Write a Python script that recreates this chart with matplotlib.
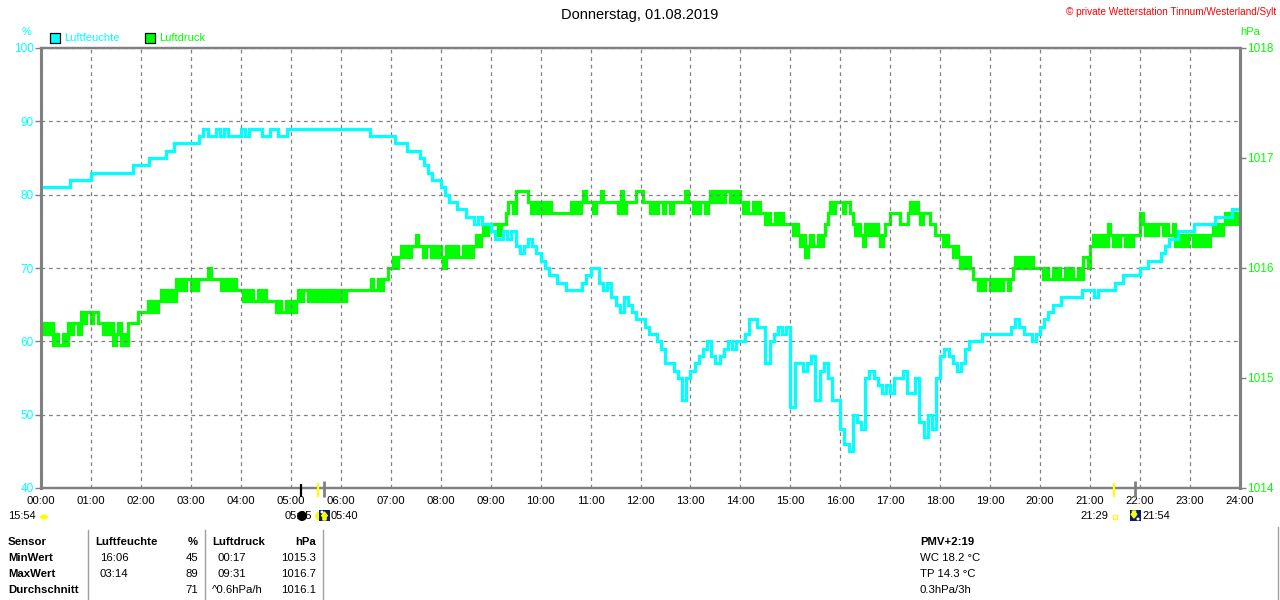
import matplotlib
matplotlib.use("Agg")
import matplotlib.pyplot as plt
import matplotlib.transforms as mtransforms
from matplotlib.patches import Rectangle, Ellipse, FancyArrow
from matplotlib.lines import Line2D
import numpy as np

W, H = 1280, 600

# ---------------- data ----------------
title = "Donnerstag, 01.08.2019"
copyright_text = "\u00a9 private Wetterstation Tinnum/Westerland/Sylt"
hour_labels = ["%02d:00" % h for h in range(25)]
hum_ticks = [40, 50, 60, 70, 80, 90, 100]
pres_ticks = [1014, 1015, 1016, 1017, 1018]

# relative humidity (%) every 5 minutes, 00:00 .. 24:00
humidity = [
    81, 81, 81, 81, 81, 81, 81, 82, 82, 82, 82, 82,
    83, 83, 83, 83, 83, 83, 83, 83, 83, 83, 84, 84,
    84, 84, 85, 85, 85, 85, 86, 86, 87, 87, 87, 87,
    87, 87, 88, 89, 88, 88, 89, 88, 89, 88, 88, 88,
    89, 88, 89, 89, 89, 88, 88, 89, 89, 88, 88, 89,
    89, 89, 89, 89, 89, 89, 89, 89, 89, 89, 89, 89,
    89, 89, 89, 89, 89, 89, 89, 88, 88, 88, 88, 88,
    88, 87, 87, 87, 86, 86, 86, 85, 84, 83, 82, 82,
    81, 80, 79, 79, 78, 78, 77, 77, 76, 77, 76, 76,
    75, 74, 74, 75, 74, 75, 73, 72, 73, 74, 73, 72,
    71, 70, 69, 69, 68, 68, 67, 67, 67, 67, 68, 69,
    70, 70, 68, 67, 68, 66, 65, 64, 66, 65, 64, 63,
    63, 62, 61, 61, 60, 59, 57, 57, 56, 55, 52, 55,
    56, 57, 58, 59, 60, 58, 57, 58, 59, 60, 59, 60,
    60, 61, 63, 63, 62, 62, 57, 60, 61, 62, 61, 62,
    51, 57, 57, 56, 57, 58, 52, 56, 57, 55, 52, 52,
    48, 46, 45, 50, 49, 48, 55, 56, 55, 54, 53, 54,
    53, 55, 55, 56, 53, 53, 55, 49, 47, 50, 48, 55,
    58, 59, 58, 57, 56, 57, 59, 60, 60, 60, 61, 61,
    61, 61, 61, 61, 61, 62, 63, 62, 61, 61, 60, 61,
    62, 63, 64, 65, 65, 66, 66, 66, 66, 66, 67, 67,
    67, 66, 67, 67, 67, 67, 68, 68, 69, 69, 69, 69,
    70, 70, 71, 71, 71, 72, 73, 74, 74, 75, 75, 75,
    75, 76, 76, 76, 76, 76, 77, 77, 77, 77, 78, 78,
    78,
]

# air pressure (hPa) every 3 minutes, 00:00 .. 24:00
pressure = [
    1015.5, 1015.4, 1015.5, 1015.4, 1015.5, 1015.3, 1015.4, 1015.3, 1015.3, 1015.4, 1015.3, 1015.5, 1015.4, 1015.5, 1015.5, 1015.4, 1015.6, 1015.5, 1015.6, 1015.6,
    1015.5, 1015.6, 1015.6, 1015.5, 1015.5, 1015.4, 1015.5, 1015.4, 1015.5, 1015.3, 1015.4, 1015.5, 1015.3, 1015.4, 1015.3, 1015.5, 1015.5, 1015.5, 1015.5, 1015.6,
    1015.6, 1015.6, 1015.6, 1015.7, 1015.6, 1015.7, 1015.6, 1015.7, 1015.8, 1015.7, 1015.8, 1015.7, 1015.8, 1015.7, 1015.9, 1015.8, 1015.9, 1015.8, 1015.9, 1015.9,
    1015.8, 1015.9, 1015.8, 1015.9, 1015.9, 1015.9, 1015.9, 1016.0, 1015.9, 1015.9, 1015.9, 1015.9, 1015.8, 1015.9, 1015.8, 1015.9, 1015.8, 1015.9, 1015.8, 1015.8,
    1015.8, 1015.7, 1015.8, 1015.7, 1015.8, 1015.7, 1015.7, 1015.8, 1015.7, 1015.8, 1015.7, 1015.7, 1015.7, 1015.7, 1015.6, 1015.7, 1015.6, 1015.6, 1015.7, 1015.6,
    1015.7, 1015.6, 1015.7, 1015.8, 1015.7, 1015.8, 1015.8, 1015.7, 1015.8, 1015.7, 1015.8, 1015.7, 1015.8, 1015.7, 1015.8, 1015.7, 1015.8, 1015.7, 1015.8, 1015.7,
    1015.8, 1015.7, 1015.8, 1015.8, 1015.8, 1015.8, 1015.8, 1015.8, 1015.8, 1015.8, 1015.8, 1015.8, 1015.9, 1015.8, 1015.8, 1015.9, 1015.8, 1015.9, 1015.9, 1016.0,
    1016.0, 1016.1, 1016.0, 1016.1, 1016.2, 1016.1, 1016.2, 1016.1, 1016.2, 1016.2, 1016.3, 1016.2, 1016.2, 1016.1, 1016.2, 1016.2, 1016.1, 1016.2, 1016.1, 1016.2,
    1016.1, 1016.0, 1016.2, 1016.1, 1016.2, 1016.1, 1016.2, 1016.1, 1016.1, 1016.2, 1016.1, 1016.2, 1016.1, 1016.2, 1016.3, 1016.2, 1016.3, 1016.4, 1016.3, 1016.4,
    1016.4, 1016.4, 1016.4, 1016.3, 1016.4, 1016.4, 1016.5, 1016.6, 1016.6, 1016.5, 1016.7, 1016.7, 1016.7, 1016.7, 1016.7, 1016.6, 1016.5, 1016.6, 1016.5, 1016.6,
    1016.5, 1016.6, 1016.5, 1016.6, 1016.5, 1016.5, 1016.5, 1016.5, 1016.5, 1016.5, 1016.5, 1016.5, 1016.6, 1016.5, 1016.6, 1016.5, 1016.6, 1016.7, 1016.6, 1016.6,
    1016.6, 1016.5, 1016.6, 1016.6, 1016.7, 1016.6, 1016.6, 1016.6, 1016.6, 1016.6, 1016.6, 1016.5, 1016.7, 1016.5, 1016.6, 1016.6, 1016.6, 1016.6, 1016.7, 1016.7,
    1016.7, 1016.6, 1016.6, 1016.6, 1016.5, 1016.6, 1016.5, 1016.6, 1016.6, 1016.5, 1016.6, 1016.6, 1016.5, 1016.6, 1016.6, 1016.6, 1016.6, 1016.6, 1016.7, 1016.6,
    1016.6, 1016.5, 1016.6, 1016.5, 1016.6, 1016.6, 1016.5, 1016.6, 1016.7, 1016.6, 1016.7, 1016.6, 1016.7, 1016.6, 1016.7, 1016.7, 1016.6, 1016.7, 1016.6, 1016.7,
    1016.6, 1016.5, 1016.6, 1016.5, 1016.5, 1016.6, 1016.5, 1016.6, 1016.5, 1016.5, 1016.4, 1016.5, 1016.4, 1016.4, 1016.5, 1016.4, 1016.5, 1016.4, 1016.4, 1016.4,
    1016.4, 1016.3, 1016.4, 1016.3, 1016.2, 1016.3, 1016.1, 1016.2, 1016.3, 1016.2, 1016.2, 1016.3, 1016.2, 1016.3, 1016.4, 1016.5, 1016.6, 1016.5, 1016.6, 1016.6,
    1016.6, 1016.5, 1016.6, 1016.6, 1016.5, 1016.4, 1016.3, 1016.4, 1016.3, 1016.2, 1016.4, 1016.3, 1016.4, 1016.3, 1016.4, 1016.3, 1016.2, 1016.3, 1016.4, 1016.4,
    1016.5, 1016.5, 1016.5, 1016.5, 1016.4, 1016.4, 1016.4, 1016.5, 1016.6, 1016.5, 1016.6, 1016.5, 1016.4, 1016.5, 1016.5, 1016.5, 1016.4, 1016.4, 1016.3, 1016.3,
    1016.3, 1016.2, 1016.3, 1016.2, 1016.2, 1016.1, 1016.2, 1016.1, 1016.0, 1016.1, 1016.0, 1016.1, 1016.0, 1015.9, 1015.9, 1015.8, 1015.9, 1015.8, 1015.9, 1015.9,
    1015.8, 1015.9, 1015.8, 1015.9, 1015.8, 1015.9, 1015.9, 1015.8, 1015.9, 1016.0, 1016.1, 1016.0, 1016.1, 1016.0, 1016.1, 1016.0, 1016.1, 1016.0, 1016.0, 1016.0,
    1016.0, 1015.9, 1016.0, 1015.9, 1015.9, 1016.0, 1015.9, 1016.0, 1015.9, 1015.9, 1016.0, 1015.9, 1016.0, 1015.9, 1015.9, 1016.0, 1015.9, 1016.1, 1016.1, 1016.0,
    1016.2, 1016.3, 1016.2, 1016.3, 1016.2, 1016.3, 1016.2, 1016.4, 1016.3, 1016.2, 1016.3, 1016.2, 1016.3, 1016.3, 1016.2, 1016.3, 1016.2, 1016.3, 1016.3, 1016.3,
    1016.5, 1016.4, 1016.3, 1016.4, 1016.3, 1016.4, 1016.3, 1016.4, 1016.4, 1016.3, 1016.4, 1016.3, 1016.3, 1016.4, 1016.2, 1016.3, 1016.2, 1016.3, 1016.2, 1016.3,
    1016.3, 1016.2, 1016.3, 1016.2, 1016.3, 1016.2, 1016.3, 1016.2, 1016.3, 1016.4, 1016.3, 1016.4, 1016.3, 1016.4, 1016.5, 1016.4, 1016.5, 1016.4, 1016.5, 1016.4,
    1016.4,
]

# astronomical events on the time axis (hours)
moon_event = 5.2
twilight_am = 5.55
sunrise = 5 + 40 / 60
twilight_pm = 21 + 29 / 60
sunset = 21 + 54 / 60

# table
table_header = ["Sensor", "Luftfeuchte", "%", "Luftdruck", "hPa"]
row_names = ["MinWert", "MaxWert", "Durchschnitt"]
hum_times = ["16:06", "03:14", ""]
hum_values = ["45", "89", "71"]
pres_times = ["00:17", "09:31", "^0.6hPa/h"]
pres_values = ["1015.3", "1016.7", "1016.1"]
extra_lines = ["PMV+2:19", "WC 18.2 \u00b0C", "TP 14.3 \u00b0C", "0.3hPa/3h"]

# ---------------- style ----------------
CYAN = "#00FFFF"
GREEN = "#00FF00"
GRAY = "#808080"
FONT = "Liberation Sans"
plt.rcParams["font.family"] = [FONT, "DejaVu Sans"]

fig = plt.figure(figsize=(W / 100, H / 100), dpi=100)
L, R, T, B = 41, 1240, 48, 488
ax = fig.add_axes([L / W, 1 - B / H, (R - L) / W, (B - T) / H])
ax2 = ax.twinx()

t_h = np.arange(len(humidity)) * 5 / 60
t_p = np.arange(len(pressure)) * 3 / 60

ax2.plot(t_p, pressure, color=GREEN, lw=2.3, drawstyle="steps-post", solid_joinstyle="miter")
ax.plot(t_h, humidity, color=CYAN, lw=2.3, drawstyle="steps-post", solid_joinstyle="miter")
ax.set_zorder(ax2.get_zorder() + 1)
ax.patch.set_visible(False)

ax.set_xlim(0, 24)
ax.set_ylim(40, 100)
ax2.set_ylim(1014, 1018)

ax.set_xticks(range(25))
ax.set_xticklabels(hour_labels, fontsize=8.2)
ax.set_yticks(hum_ticks)
ax.set_yticklabels([str(v) for v in hum_ticks], fontsize=8.5, color=CYAN)
ax2.set_yticks(pres_ticks)
ax2.set_yticklabels([str(v) for v in pres_ticks], fontsize=8.5, color=GREEN)

ax.grid(True, color=GRAY, linestyle=(0, (3, 3)), linewidth=0.9)
ax.tick_params(axis="x", length=0, pad=6)
ax.tick_params(axis="y", length=4, width=1, color=GRAY, pad=1)
ax2.tick_params(axis="y", length=4, width=1, color=GRAY, pad=1)

for a in (ax, ax2):
    for s in a.spines.values():
        s.set_color(GRAY)
    a.spines["left"].set_linewidth(2.2)
    a.spines["right"].set_linewidth(2.2)
    a.spines["top"].set_linewidth(1.6)
    a.spines["bottom"].set_linewidth(1.6)


def ftext(x, y, s, **kw):
    kw.setdefault("fontsize", 8.2)
    kw.setdefault("va", "center")
    fig.text(x / W, 1 - y / H, s, **kw)


def fpt(x, y):
    return (x / W, 1 - y / H)


def fellipse(x, y, w, h, **kw):
    fig.patches.append(Ellipse(fpt(x, y), w / W, h / H, transform=fig.transFigure, **kw))


ftext(640, 15, title, ha="center", fontsize=10.5)
ftext(1276, 12, copyright_text, ha="right", color="red", fontsize=7.2)
ftext(27, 32, "%", ha="center", color=CYAN, fontsize=8)
ftext(1250, 32, "hPa", ha="center", color=GREEN, fontsize=8)

# legend
fig.patches.append(Rectangle(fpt(50, 43), 10 / W, 10 / H, transform=fig.transFigure,
                             facecolor=CYAN, edgecolor="black", lw=0.9))
ftext(64, 38, "Luftfeuchte", color=CYAN, fontsize=8)
fig.patches.append(Rectangle(fpt(145, 43), 10 / W, 10 / H, transform=fig.transFigure,
                             facecolor=GREEN, edgecolor="black", lw=0.9))
ftext(159, 38, "Luftdruck", color=GREEN, fontsize=8)

# event markers on the time axis
trans = mtransforms.blended_transform_factory(ax.transData, fig.transFigure)


def vmark(h, y0, y1, color, lw):
    fig.lines.append(Line2D([h, h], [1 - y0 / H, 1 - y1 / H], transform=trans,
                            color=color, lw=lw, solid_capstyle="butt"))


vmark(moon_event, 484, 497, "black", 1.6)
vmark(twilight_am, 483, 497, "#FFFF00", 1.6)
vmark(sunrise, 481, 497, GRAY, 2.0)
vmark(twilight_pm, 483, 497, "#FFFF00", 1.6)
vmark(sunset, 481, 497, GRAY, 2.0)

# event labels and icons
EY = 516
ftext(8, EY, "15:54", fontsize=8)
fellipse(44, EY + 1, 8, 5, facecolor="#FFFF00", edgecolor="none")
ftext(285, EY, "05:05", fontsize=8)
fellipse(302, EY, 10, 10, facecolor="black", edgecolor="none")
fellipse(318, EY, 6, 8, facecolor="#FFFF00", edgecolor="none")
fig.patches.append(Rectangle(fpt(319, EY + 5), 11 / W, 11 / H, transform=fig.transFigure,
                             facecolor="#0A1E6E", edgecolor="none"))
fig.patches.append(FancyArrow(324.5 / W, 1 - (EY + 4) / H, 0, 8 / H, width=1.5 / H,
                              head_width=6 / W, head_length=4 / H, length_includes_head=True,
                              transform=fig.transFigure, color="#FFFF00"))
fellipse(322, EY - 4, 3, 3, facecolor="white", edgecolor="none")
ftext(331, EY, "05:40", fontsize=8)

ftext(1108, EY, "21:29", ha="right", fontsize=8)
fig.patches.append(Rectangle(fpt(1113, EY + 3), 4 / W, 4 / H, transform=fig.transFigure,
                             facecolor="white", edgecolor="#FFFF00", lw=0.8))
fig.patches.append(Rectangle(fpt(1130, EY + 5), 11 / W, 11 / H, transform=fig.transFigure,
                             facecolor="#0A1E6E", edgecolor="none"))
fig.patches.append(FancyArrow(1134 / W, 1 - (EY - 5) / H, 0, -7 / H, width=1.5 / H,
                              head_width=6 / W, head_length=4 / H, length_includes_head=True,
                              transform=fig.transFigure, color="#FFFF00"))
fellipse(1138, EY + 3, 3, 3, facecolor="white", edgecolor="none")
ftext(1142, EY, "21:54", fontsize=8)

# table separators
for x in (88, 205, 323):
    fig.lines.append(Line2D([x / W, x / W], [1 - 530 / H, 0], transform=fig.transFigure,
                            color="#A0A0A0", lw=1))
fig.lines.append(Line2D([1278 / W, 1278 / W], [1 - 527 / H, 0], transform=fig.transFigure,
                        color="#A0A0A0", lw=1))

# table text
ys = [542, 558, 574, 590]
ftext(8, ys[0], table_header[0], fontweight="bold")
ftext(95, ys[0], table_header[1], fontweight="bold")
ftext(198, ys[0], table_header[2], fontweight="bold", ha="right")
ftext(212, ys[0], table_header[3], fontweight="bold")
ftext(316, ys[0], table_header[4], fontweight="bold", ha="right")
for i in range(3):
    y = ys[i + 1]
    ftext(8, y, row_names[i], fontweight="bold")
    ftext(100, y, hum_times[i])
    ftext(198, y, hum_values[i], ha="right")
    ftext(212 if i == 2 else 218, y, pres_times[i])
    ftext(316, y, pres_values[i], ha="right")

ftext(920, ys[0], extra_lines[0], fontweight="bold")
for i in range(1, 4):
    ftext(920, ys[i], extra_lines[i])

fig.savefig("out.png", dpi=100)
